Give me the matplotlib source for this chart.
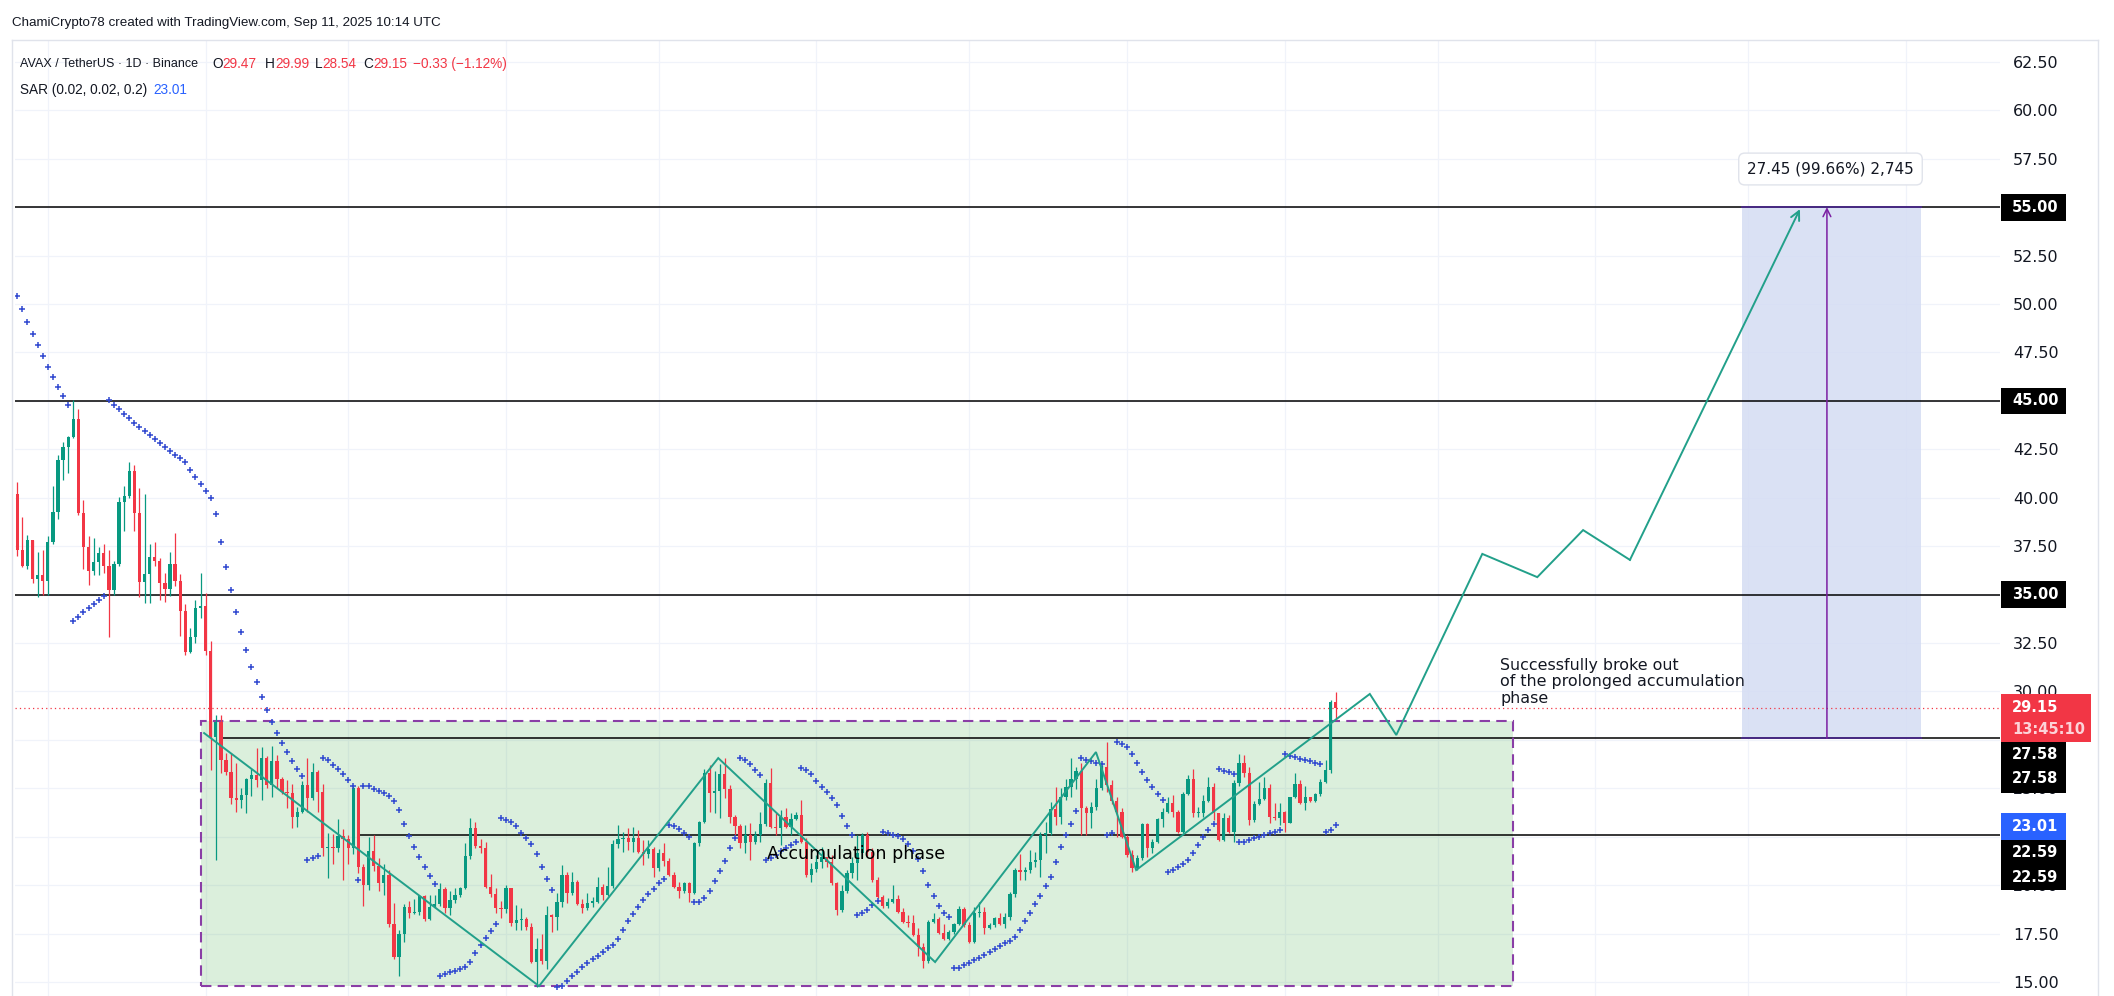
#! /usr/bin/env python3

import numpy as np
import pandas as pd
import matplotlib
matplotlib.use('Agg')
import matplotlib.pyplot as plt
from matplotlib.patches import Rectangle
from matplotlib.lines import Line2D

''' AVAX / USDT daily candles (Binance) with parabolic SAR, the accumulation
box and the hand drawn breakout projection, TradingView look. '''

# ---------------------------------------------------------------- data
first_day = '2024-12-26'
first_open = 40.20

closes = [
    37.30, 36.50, 37.80, 35.80, 36.00, 35.70, 37.70, 39.25, 41.95, 42.60,
    43.15, 44.07, 39.20, 37.44, 36.20, 36.67, 37.13, 36.50, 35.24, 36.56,
    39.80, 40.10, 41.40, 39.23, 35.67, 36.06, 36.96, 36.75, 35.58, 35.30,
    36.60, 35.70, 34.17, 32.05, 32.80, 34.30, 34.40, 32.10, 27.65, 28.44,
    26.46, 25.86, 24.48, 24.40, 24.65, 25.50, 25.69, 25.43, 26.55, 25.17,
    26.43, 25.50, 24.83, 24.75, 23.50, 23.80, 25.17, 24.48, 25.86, 24.83,
    21.90, 21.99, 21.90, 22.54, 22.37, 21.90, 25.00, 20.95, 20.00, 21.76,
    20.99, 20.13, 20.52, 18.00, 16.27, 17.50, 18.89, 18.55, 18.63, 19.44,
    18.25, 18.86, 19.03, 19.79, 18.80, 19.23, 19.50, 19.84, 21.50, 22.93,
    22.02, 21.90, 19.89, 19.54, 18.80, 18.75, 19.84, 18.03, 18.20, 18.25,
    17.86, 16.05, 16.69, 16.10, 18.46, 18.34, 19.15, 20.52, 19.61, 20.18,
    19.03, 18.80, 19.10, 19.15, 19.89, 19.49, 19.98, 22.13, 22.37, 22.42,
    22.25, 22.42, 21.73, 21.61, 21.85, 20.87, 21.68, 21.27, 20.52, 19.92,
    19.72, 20.10, 19.61, 22.20, 23.28, 25.81, 24.78, 24.88, 25.74, 24.95,
    23.50, 23.05, 22.20, 22.60, 22.25, 22.59, 23.16, 25.29, 23.02, 22.93,
    23.50, 23.02, 23.40, 23.62, 22.25, 20.52, 20.85, 21.20, 21.47, 21.20,
    20.10, 18.72, 19.72, 20.61, 21.13, 21.64, 22.59, 21.70, 20.27, 19.41,
    18.92, 19.15, 19.27, 18.60, 18.11, 18.03, 17.43, 16.82, 16.10, 18.11,
    18.25, 17.55, 17.20, 17.60, 18.00, 18.75, 17.94, 17.08, 18.55, 18.63,
    17.77, 17.94, 18.29, 18.00, 18.37, 19.54, 20.78, 20.70, 20.80, 21.21,
    21.30, 22.59, 22.68, 23.92, 23.50, 24.57, 25.05, 25.46, 25.90, 23.96,
    23.71, 24.05, 25.00, 26.08, 25.17, 24.36, 23.79, 22.50, 21.55, 20.87,
    21.38, 23.16, 21.90, 22.24, 23.40, 23.79, 24.26, 23.79, 22.76, 24.70,
    25.46, 23.71, 23.74, 24.36, 25.05, 23.71, 22.33, 23.45, 22.76, 25.26,
    26.29, 25.77, 23.36, 24.19, 24.43, 25.00, 23.53, 23.45, 23.79, 23.22,
    24.53, 25.22, 24.22, 24.53, 24.36, 24.70, 25.34, 25.94, 29.48, 29.15,
]

highs = [
    40.80, 39.00, 38.10, 37.80, 37.20, 37.30, 38.00, 40.60, 42.20, 42.90,
    43.20, 45.05, 44.60, 39.90, 38.00, 37.90, 37.44, 37.60, 37.30, 36.74,
    40.06, 40.60, 41.83, 41.70, 40.50, 40.20, 37.60, 37.70, 36.90, 36.10,
    37.20, 38.20, 36.06, 34.50, 33.30, 34.70, 36.10, 35.10, 32.60, 28.80,
    28.80, 26.80, 26.80, 26.30, 25.00, 25.55, 26.00, 27.06, 27.15, 26.65,
    27.20, 26.70, 25.60, 25.45, 25.20, 24.05, 25.40, 26.55, 26.30, 25.95,
    25.20, 22.68, 22.65, 23.40, 22.90, 22.59, 25.10, 25.10, 21.10, 22.50,
    22.60, 21.40, 21.10, 20.80, 19.06, 17.68, 19.03, 19.20, 19.30, 19.50,
    19.50, 19.50, 19.50, 20.10, 19.90, 19.70, 19.84, 19.90, 22.16, 23.45,
    23.28, 22.40, 22.25, 20.58, 19.84, 19.18, 20.00, 19.87, 18.97, 18.80,
    18.37, 18.03, 17.25, 17.50, 18.92, 18.50, 19.60, 21.04, 20.70, 20.70,
    20.27, 19.30, 19.60, 19.40, 20.44, 20.06, 20.95, 22.33, 23.10, 22.76,
    22.93, 23.02, 22.85, 22.33, 22.33, 21.99, 21.85, 22.20, 21.40, 20.70,
    20.18, 20.18, 20.18, 22.25, 23.33, 25.98, 26.20, 25.90, 26.25, 26.55,
    25.17, 23.62, 23.16, 23.10, 23.23, 22.80, 23.80, 25.50, 26.03, 23.70,
    23.88, 24.00, 23.70, 23.80, 24.40, 22.42, 21.12, 21.56, 21.99, 21.47,
    21.56, 20.18, 20.00, 20.78, 21.47, 22.59, 22.68, 22.76, 21.90, 20.44,
    19.49, 19.32, 20.00, 19.49, 18.80, 18.46, 18.46, 17.77, 16.99, 18.20,
    18.55, 18.37, 18.00, 17.68, 18.06, 18.92, 18.89, 18.11, 18.89, 19.15,
    18.89, 18.03, 18.37, 18.55, 18.58, 19.66, 20.87, 21.60, 20.95, 21.82,
    21.73, 22.76, 23.28, 24.31, 25.05, 25.00, 25.50, 26.55, 26.10, 26.30,
    24.08, 24.31, 25.46, 26.20, 27.41, 25.43, 24.57, 23.96, 22.59, 21.81,
    21.55, 23.20, 23.20, 22.40, 23.45, 23.96, 24.57, 24.65, 23.88, 24.82,
    25.68, 25.98, 24.05, 24.65, 25.60, 25.26, 23.75, 23.71, 23.62, 25.43,
    26.77, 26.72, 26.08, 24.36, 25.34, 25.60, 25.20, 24.22, 24.22, 23.85,
    24.57, 25.77, 25.43, 25.12, 24.57, 24.74, 25.46, 26.46, 29.56, 29.99,
]

lows = [
    37.00, 36.40, 36.30, 35.60, 34.90, 35.00, 35.00, 37.60, 38.90, 40.90,
    41.30, 43.10, 39.10, 36.30, 35.50, 36.00, 36.00, 36.10, 32.80, 35.00,
    36.50, 38.30, 40.00, 38.30, 34.90, 34.55, 34.55, 36.50, 34.70, 34.60,
    34.95, 35.45, 32.86, 31.90, 31.97, 32.50, 33.80, 31.90, 25.95, 21.30,
    25.80, 25.70, 24.20, 23.80, 24.00, 23.70, 24.60, 25.08, 24.40, 25.00,
    24.57, 25.00, 24.70, 24.00, 22.97, 23.00, 23.70, 23.80, 24.40, 23.80,
    21.50, 20.35, 21.10, 21.70, 20.27, 21.10, 21.60, 20.65, 18.90, 19.75,
    20.75, 19.70, 19.50, 17.86, 16.20, 15.31, 17.08, 18.30, 18.50, 18.46,
    18.17, 18.20, 18.80, 18.90, 18.55, 18.46, 19.10, 19.37, 19.80, 21.33,
    21.90, 21.68, 19.84, 19.40, 18.55, 18.30, 18.55, 17.90, 17.68, 17.68,
    17.68, 15.96, 14.72, 15.93, 15.65, 17.60, 17.68, 18.89, 19.06, 19.49,
    18.97, 18.58, 18.70, 18.89, 19.06, 19.23, 19.44, 19.84, 21.90, 21.73,
    21.80, 21.73, 21.64, 21.04, 21.40, 20.44, 20.75, 21.00, 20.45, 19.85,
    19.32, 19.60, 19.15, 19.54, 22.02, 23.23, 23.80, 23.70, 23.45, 24.48,
    23.19, 22.59, 21.90, 21.64, 21.30, 22.10, 22.25, 23.05, 22.93, 22.59,
    22.07, 22.93, 22.59, 23.36, 22.16, 20.44, 20.18, 20.70, 20.87, 20.95,
    20.00, 18.46, 18.63, 19.58, 20.35, 20.27, 21.40, 21.50, 20.18, 19.32,
    18.80, 18.80, 19.06, 18.55, 18.05, 17.86, 17.35, 16.34, 15.70, 16.00,
    18.05, 17.50, 17.17, 17.17, 17.50, 17.94, 17.86, 17.00, 17.00, 18.37,
    17.50, 17.72, 17.86, 17.94, 17.77, 18.20, 19.40, 20.27, 20.27, 20.61,
    20.95, 20.44, 21.64, 22.59, 23.10, 23.16, 24.40, 24.57, 24.95, 22.59,
    22.59, 22.93, 23.88, 24.91, 24.82, 24.20, 22.50, 22.42, 21.47, 20.69,
    20.78, 21.30, 21.47, 21.64, 22.16, 23.02, 23.71, 23.53, 22.67, 22.71,
    24.65, 23.53, 23.53, 23.53, 24.30, 23.36, 22.29, 22.29, 22.67, 22.24,
    25.12, 25.60, 23.10, 23.28, 24.14, 24.39, 23.19, 23.36, 23.10, 22.76,
    23.19, 24.48, 24.19, 23.88, 24.31, 24.31, 24.60, 25.26, 25.81, 28.54,
]

# parabolic SAR settings and its state on the first visible bar
sar_settings = (0.02, 0.02, 0.2)
sar_first = 50.40
sar_first_ep = 33.64
sar_first_af = 0.04
sar_last = 23.01

# last bar as printed in the legend
last_o, last_h, last_l, last_c = 29.47, 29.99, 28.54, 29.15
last_change, last_change_pct = -0.33, -1.12
countdown = '13:45:10'

# horizontal levels
full_levels = [55.0, 45.0, 35.0]
range_top, range_top_from = 27.58, 40.2
range_low, range_low_from = 22.59, 67.3

# accumulation box (bar index, price)
box_x = (36.0, 293.9)
box_y = (14.8, 28.45)
box_label = 'Accumulation phase'
box_label_at = (164.7, 21.61)

# projected path drawn on the chart
path_x = [36.7, 102.5, 137.7, 180.3, 211.9, 219.8, 265.7, 270.9, 287.8, 298.6, 307.6, 316.8, 350.2]
path_y = [27.85, 14.79, 26.56, 16.03, 26.87, 20.78, 29.87, 27.75, 37.10, 35.90, 38.33, 36.79, 54.90]

# price range measure
measure_x = (338.8, 374.0)
measure_mid = 355.5
measure_y = (27.58, 55.0)
measure_text = '27.45 (99.66%) 2,745'
measure_text_at = (356.2, 56.97)

note_text = 'Successfully broke out\nof the prolonged accumulation\nphase'
note_at = (291.3, 30.49)

header = 'ChamiCrypto78 created with TradingView.com, Sep 11, 2025 10:14 UTC'
symbol = 'AVAX / TetherUS · 1D · Binance'
sar_name = 'SAR (0.02, 0.02, 0.2)'

price_ticks = np.arange(15.0, 63.0, 2.5)

# ---------------------------------------------------------------- style
W, H = 2114, 996
UP, DOWN = '#089981', '#f23645'
DARK = '#131722'
GRID = '#f0f3fa'
BLUE = '#2962ff'
SAR_COLOR = '#3048d0'
TEAL = '#22a08a'
PURPLE = '#7b1fa2'
UI_FONT = 'Liberation Sans'

plt.rcParams['font.family'] = ['DejaVu Sans']


def parabolic_sar(hi, lo, start, inc, top, sar0, ep0, af0):
    # same steps as TradingView's ta.sar, starting from a known downtrend state
    out = [sar0]
    result, ext, acc, below = sar0, ep0, af0, False
    for i in range(1, len(hi)):
        first = False
        result = result + acc * (ext - result)
        if below:
            if result > lo[i]:
                first, below = True, False
                result = max(hi[i], ext)
                ext, acc = lo[i], start
        else:
            if result < hi[i]:
                first, below = True, True
                result = min(lo[i], ext)
                ext, acc = hi[i], start
        if not first:
            if below and hi[i] > ext:
                ext, acc = hi[i], min(acc + inc, top)
            elif not below and lo[i] < ext:
                ext, acc = lo[i], min(acc + inc, top)
        prev2 = i - 2 if i > 1 else i - 1
        if below:
            result = min(result, lo[i - 1], lo[prev2])
        else:
            result = max(result, hi[i - 1], hi[prev2])
        out.append(result)
    return out


def xfrac(px):
    return (px - 15) / 1985.


def text_run(fig, x_px, y_px, parts, size):
    r = fig.canvas.get_renderer()
    x = x_px
    for s, col in parts:
        t = fig.text(x / W, 1 - y_px / H, s, color=col, fontsize=size,
                     va='center', ha='left', family=UI_FONT)
        x += t.get_window_extent(renderer=r).width


def price_tag(ax, top, bottom, right_px, fc, lines):
    tr = ax.get_yaxis_transform()
    ax.add_patch(Rectangle((xfrac(2001), bottom), xfrac(right_px) - xfrac(2001), top - bottom,
                           transform=tr, fc=fc, ec='none', clip_on=False, zorder=10))
    for s, y, col in lines:
        ax.text(xfrac(2012), y, s, transform=tr, color=col, fontsize=10.5, fontweight='bold',
                va='center', ha='left', clip_on=False, zorder=11)


def main():
    n = len(closes)
    idx = np.arange(n)
    c = np.array(closes)
    o = np.concatenate([[first_open], c[:-1]])
    o[-1] = last_o
    hi = np.array(highs)
    lo = np.array(lows)
    sar = parabolic_sar(highs, lows, *sar_settings, sar_first, sar_first_ep, sar_first_af)

    fig = plt.figure(figsize=(W / 100., H / 100.), dpi=100)
    ax = fig.add_axes([15 / W, 0, 1985 / W, (H - 40) / H])
    ax.set_xlim(-0.45, 389.5)
    ax.set_ylim(14.277, 63.63)
    for s in ax.spines.values():
        s.set_visible(False)
    ax.set_xticks([])
    ax.yaxis.tick_right()
    ax.set_yticks(price_ticks)
    ax.set_yticklabels(['{:.2f}'.format(t) for t in price_ticks])
    ax.tick_params(axis='y', length=0, pad=9.4, labelsize=11.5, labelcolor=DARK)

    # grid: every 2.5 in price, month starts in time
    for t in price_ticks:
        ax.axhline(t, color=GRID, lw=0.9, zorder=0)
    dates = pd.date_range(first_day, periods=392, freq='D')
    for i, d in enumerate(dates):
        if d.day == 1:
            ax.axvline(i, color=GRID, lw=0.9, zorder=0)

    # accumulation box
    ax.add_patch(Rectangle((box_x[0], box_y[0]), box_x[1] - box_x[0], box_y[1] - box_y[0],
                           fc=(76 / 255., 175 / 255., 80 / 255., 0.2), ec='none', zorder=0.5))
    ax.add_patch(Rectangle((box_x[0], box_y[0]), box_x[1] - box_x[0], box_y[1] - box_y[0],
                           fc='none', ec='#8a3ea6', lw=1.5, ls=(0, (5, 3)), zorder=2.2))

    # price range measure
    ax.add_patch(Rectangle((measure_x[0], measure_y[0]), measure_x[1] - measure_x[0],
                           measure_y[1] - measure_y[0], fc='#d4dcf3', alpha=0.85, ec='none', zorder=0.5))

    # levels
    for lv in full_levels:
        ax.axhline(lv, color='black', lw=1.1, zorder=2)
    ax.plot([range_top_from, 389.5], [range_top] * 2, color='black', lw=1.1, zorder=2)
    ax.plot([range_low_from, 389.5], [range_low] * 2, color='black', lw=1.1, zorder=2)
    ax.axhline(last_c, color=DOWN, lw=0.9, ls=(0, (1, 2.5)), zorder=2)
    for y in measure_y:
        ax.plot(measure_x, [y, y], color='#4a2a8a', lw=1.3, zorder=2.1)

    # candles
    up = c >= o
    cols = np.where(up, UP, DOWN)
    ax.vlines(idx, lo, hi, colors=cols, lw=0.9, zorder=3)
    body = np.maximum(np.abs(c - o), 0.06)
    ax.bar(idx, body, width=0.64, bottom=np.minimum(o, c), color=cols, lw=0, zorder=3.1)

    # SAR
    ax.plot(idx, sar, '+', color=SAR_COLOR, ms=4.2, mew=1.1, zorder=4)

    # projection path
    ax.plot(path_x[:-1], path_y[:-1], color=TEAL, lw=1.4, zorder=5, solid_joinstyle='miter')
    ax.annotate('', xy=(path_x[-1], path_y[-1]), xytext=(path_x[-2], path_y[-2]),
                arrowprops=dict(arrowstyle='->', color=TEAL, lw=1.4, shrinkA=0, shrinkB=0,
                                mutation_scale=16), zorder=5)
    ax.annotate('', xy=(measure_mid, measure_y[1]), xytext=(measure_mid, measure_y[0]),
                arrowprops=dict(arrowstyle='->', color=PURPLE, lw=1.1, shrinkA=0, shrinkB=0,
                                mutation_scale=14), zorder=5)

    # drawing texts
    ax.text(box_label_at[0], box_label_at[1], box_label, fontsize=12.6, color='black',
            ha='center', va='center', zorder=6)
    ax.text(note_at[0], note_at[1], note_text, fontsize=11.4, color=DARK, ha='left',
            va='center', linespacing=1.12, zorder=6)
    ax.text(measure_text_at[0], measure_text_at[1], measure_text, fontsize=11, color=DARK,
            ha='center', va='center', zorder=7,
            bbox=dict(boxstyle='round,pad=0.55,rounding_size=0.4', fc='white', ec='#e0e3eb', lw=1))

    # price scale tags
    price_tag(ax, 55.67, 54.30, 2066, 'black', [('{:.2f}'.format(55.0), 55.0, 'white')])
    price_tag(ax, 45.67, 44.32, 2066, 'black', [('{:.2f}'.format(45.0), 45.0, 'white')])
    price_tag(ax, 35.70, 34.30, 2066, 'black', [('{:.2f}'.format(35.0), 35.0, 'white')])
    price_tag(ax, 29.87, 27.39, 2091, DOWN, [('{:.2f}'.format(last_c), last_c, 'white'),
                                              (countdown, 28.06, '#fcd3d8')])
    price_tag(ax, 27.39, 24.76, 2066, 'black', [('{:.2f}'.format(range_top), 26.72, 'white'),
                                                 ('{:.2f}'.format(range_top), 25.48, 'white')])
    price_tag(ax, 23.72, 22.33, 2066, BLUE, [('{:.2f}'.format(sar_last), 23.02, 'white')])
    price_tag(ax, 22.33, 19.75, 2066, 'black', [('{:.2f}'.format(range_low), 21.71, 'white'),
                                                 ('{:.2f}'.format(range_low), 20.42, 'white')])

    # panel borders
    border = '#e0e3eb'
    fig.add_artist(Line2D([12 / W, 2098 / W], [1 - 40 / H] * 2, color=border, lw=1, transform=fig.transFigure))
    fig.add_artist(Line2D([12 / W, 12 / W], [0, 1 - 40 / H], color=border, lw=1, transform=fig.transFigure))
    fig.add_artist(Line2D([2098 / W, 2098 / W], [0, 1 - 40 / H], color=border, lw=1, transform=fig.transFigure))

    # header and legend
    text_run(fig, 12, 23, [(header, DARK)], 9.6)
    text_run(fig, 20, 64, [(symbol, DARK)], 9.0)
    text_run(fig, 212, 64, [('O', DARK), ('{:.2f}'.format(last_o), DOWN)], 9.8)
    text_run(fig, 265, 64, [('H', DARK), ('{:.2f}'.format(last_h), DOWN)], 9.8)
    text_run(fig, 315, 64, [('L', DARK), ('{:.2f}'.format(last_l), DOWN)], 9.8)
    text_run(fig, 363, 64, [('C', DARK), ('{:.2f}'.format(last_c), DOWN)], 9.8)
    text_run(fig, 413, 64, [('\u2212{:.2f} (\u2212{:.2f}%)'.format(abs(last_change), abs(last_change_pct)), DOWN)], 9.8)
    text_run(fig, 20, 90, [(sar_name, DARK)], 9.8)
    text_run(fig, 153, 90, [('{:.2f}'.format(sar_last), BLUE)], 9.8)

    fig.savefig('out.png', dpi=100)


if __name__ == '__main__':
    main()
